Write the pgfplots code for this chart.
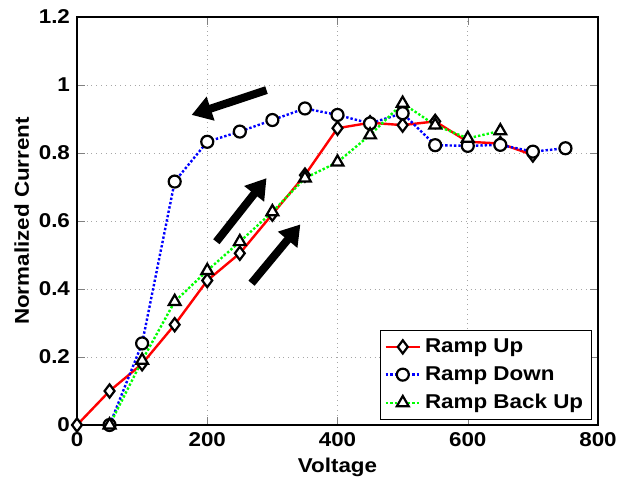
\documentclass[border=0pt]{standalone}
\usepackage{fontspec}
\setmainfont{Liberation Sans}[FakeStretch=1.12]
\usepackage{pgfplots}
\pgfplotsset{compat=1.18}
\usetikzlibrary{arrows.meta}

\pgfplotstableread{
x y
0 0
50 0.10
100 0.18
150 0.295
200 0.425
250 0.505
300 0.62
350 0.735
400 0.873
450 0.889
500 0.882
550 0.893
600 0.833
650 0.828
700 0.794
}\rampup

\pgfplotstableread{
x y
750 0.814
700 0.804
650 0.824
600 0.821
550 0.823
500 0.917
450 0.887
400 0.912
350 0.931
300 0.897
250 0.863
200 0.833
150 0.716
100 0.24
50 0
}\rampdown

\pgfplotstableread{
x y
50 0
100 0.19
150 0.363
200 0.454
250 0.539
300 0.627
350 0.726
400 0.773
450 0.853
500 0.946
550 0.882
600 0.843
650 0.865
}\rampbackup

\begin{document}
\begin{tikzpicture}
\begin{axis}[
    name=ax,
    width=260.5pt, height=204pt,
    scale only axis,
    xmin=0, xmax=800, ymin=0, ymax=1.2,
    xtick={0,200,...,800},
    ytick={0,0.2,...,1.2},
    /pgf/number format/assume math mode=true,
    tick label style={font=\fontsize{10}{12}\selectfont\bfseries},
    label style={font=\fontsize{10}{12}\selectfont\bfseries},
    xlabel={Voltage},
    ylabel={Normalized Current},
    xlabel style={at={(axis description cs:0.5,-0.103)}, anchor=center},
    ylabel style={at={(axis description cs:-0.106,0.5)}, anchor=center},
    tick align=inside,
    major tick length=4pt,
    axis line style={line width=0.8pt},
    grid=major,
    major grid style={dotted, gray!70, line width=0.5pt},
    legend style={at={(0.988,0.012)}, anchor=south east,
        font=\fontsize{10}{12}\selectfont\bfseries,
        draw=black, line width=0.6pt, row sep=1.5pt,
        inner xsep=2pt, inner ysep=2pt},
    legend cell align=left,
    legend image code/.code={%
        \draw[mark repeat=2, mark phase=2] plot coordinates {(0cm,0cm) (0.3cm,0cm) (0.6cm,0cm)};},
    every axis plot/.append style={line width=1.2pt},
]
\addplot[red, solid, mark=diamond*, mark size=3.3pt,
    mark options={solid, draw=black, fill=white, line width=1.1pt}]
    table[x=x, y=y] {\rampup};
\addlegendentry{Ramp Up}
\addplot[blue, densely dotted, mark=*, mark size=3pt,
    mark options={solid, draw=black, fill=white, line width=1.1pt}]
    table[x=x, y=y] {\rampdown};
\addlegendentry{Ramp Down}
\addplot[green, densely dotted, mark=triangle*, mark size=3.4pt,
    mark options={solid, draw=black, fill=white, line width=1.1pt}]
    table[x=x, y=y] {\rampbackup};
\addlegendentry{Ramp Back Up}

\draw[-{Triangle[length=10pt, width=12pt]}, line width=4pt, black]
    (axis cs:291,0.985) -- (axis cs:176,0.912);
\draw[-{Triangle[length=10pt, width=12pt]}, line width=4pt, black]
    (axis cs:214,0.539) -- (axis cs:291,0.726);
\draw[-{Triangle[length=10pt, width=12pt]}, line width=4pt, black]
    (axis cs:268,0.417) -- (axis cs:343,0.59);
\end{axis}
\pgfresetboundingbox
\path ([shift={(-38.5pt,-29pt)}]ax.south west) rectangle ([shift={(15.5pt,8.5pt)}]ax.north east);
\end{tikzpicture}
\end{document}
